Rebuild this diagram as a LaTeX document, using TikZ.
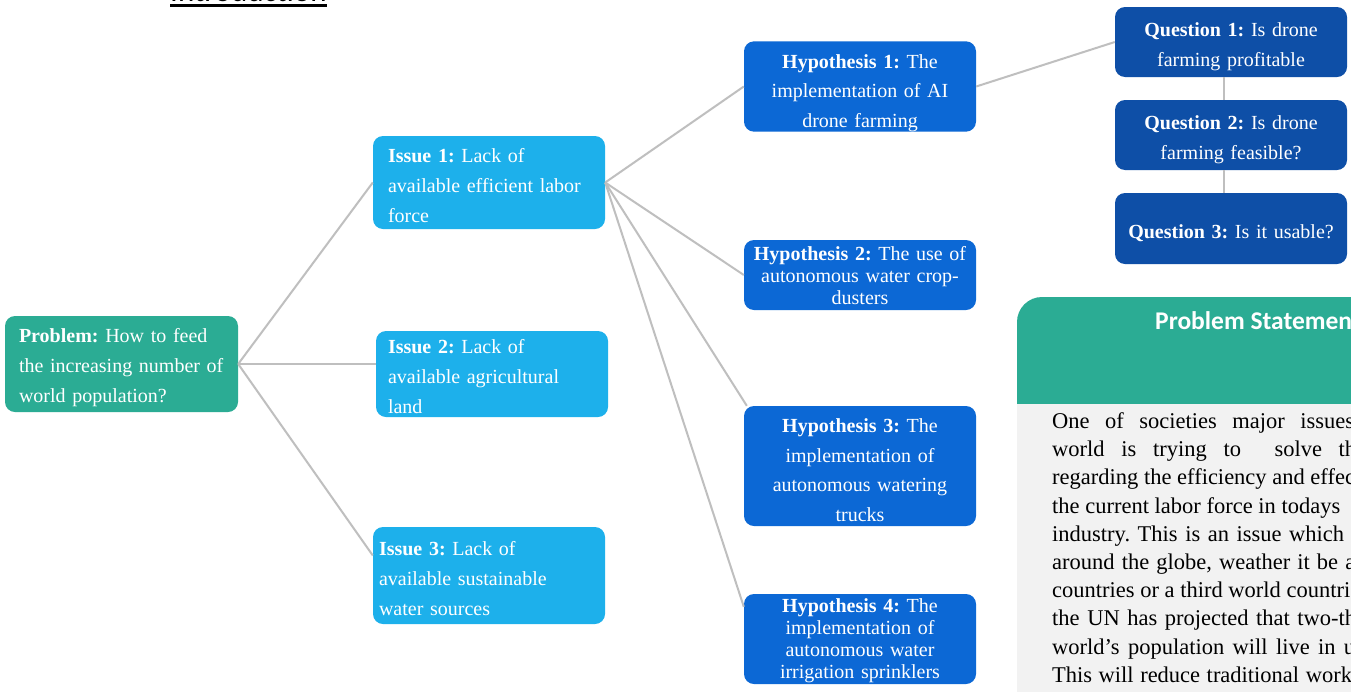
\documentclass[tikz,border=0pt]{standalone}
\usepackage{fontspec}
\setmainfont{Liberation Serif}
\newfontfamily\titlefont{Carlito}
\frenchspacing
\definecolor{tealbox}{HTML}{2BAC94}
\definecolor{issueblue}{HTML}{1DB0EB}
\definecolor{hypblue}{HTML}{0C68D5}
\definecolor{qblue}{HTML}{0E4FA7}
\definecolor{panelgray}{HTML}{F2F2F2}
\definecolor{conngray}{HTML}{BFBFBF}
\begin{document}
\begin{tikzpicture}[x=1pt,y=-1pt,
  box/.style={rounded corners=10pt, text=white, inner ysep=0pt, minimum width=232pt},
  lbox/.style={box, align=left, font=\frenchspacing\fontsize{20}{30}\selectfont},
  probbox/.style={lbox, fill=tealbox},
  issuebox/.style={lbox, fill=issueblue},
  hypbox/.style={box, fill=hypblue, align=center, inner xsep=4pt, text width=224pt},
  qbox/.style={box, fill=qblue, align=center, inner xsep=4pt, text width=224pt, font=\frenchspacing\fontsize{20}{30}\selectfont},
  conn/.style={draw=conngray, line width=2pt},
  bodyline/.style={anchor=base west, inner sep=0pt, font=\frenchspacing\fontsize{22.5}{28}\selectfont},
]
\useasboundingbox (0,0) rectangle (1351,691);
\clip (0,0) rectangle (1351,691);
\fill[white] (0,0) rectangle (1351,691);

% cut-off heading
\node[anchor=base west, inner sep=0pt, font=\titlefont\fontsize{31}{31}\selectfont] (intro) at (170,1.5) {Introduction};
\draw[line width=2.5pt] ([yshift=-3.8pt]intro.base west) -- ([yshift=-3.8pt]intro.base east);

% problem statement panel
\fill[tealbox, rounded corners=25pt] (1017,297) rectangle (1420,404);
\fill[tealbox] (1017,345) rectangle (1420,404);
\fill[panelgray] (1017,404) rectangle (1420,700);
\node[anchor=base west, inner sep=0pt, text=white, font=\titlefont\bfseries\fontsize{25.5}{27}\selectfont] (pstitle) at (1155,329.8) {Problem Statemen};

\node[bodyline] (pl1) at (1052,428.5) {\makebox[302pt][s]{One of societies major issues}};
\node[bodyline] (pl2) at (1052,456.5) {\makebox[304pt][s]{world is trying to\ \ solve th}};
\node[bodyline] (pl3) at (1052,484.5) {regarding the efficiency and effec};
\node[bodyline] (pl4) at (1052,513) {the current labor force in todays};
\node[bodyline] (pl5) at (1052,541.5) {\makebox[292pt][s]{industry. This is an issue which}};
\node[bodyline] (pl6) at (1052,569.5) {\makebox[303pt][s]{around the globe, weather it be a}};
\node[bodyline] (pl7) at (1052,597.5) {countries or a third world countri};
\node[bodyline] (pl8) at (1052,625.5) {\makebox[304pt][s]{the UN has projected that two-th}};
\node[bodyline] (pl9) at (1052,654) {\makebox[303pt][s]{world’s population will live in u}};
\node[bodyline] (pl10) at (1052,682) {\makebox[306pt][s]{This will reduce traditional workt}};

% problem
\node[probbox, minimum width=233pt, minimum height=96pt, inner xsep=14pt, text width=205pt] (prob) at (121.5,364)
  {\rule{0pt}{21pt}\textbf{Problem:} How to feed\\the increasing number of\\world population?};

% issues
\node[issuebox, minimum height=93pt, inner xsep=15pt, text width=202pt] (i1) at (489,182.5)
  {\rule{0pt}{20pt}\textbf{Issue 1:} Lack of\\available efficient labor\\force};
\node[issuebox, minimum height=86pt, inner xsep=12pt, text width=208pt] (i2) at (492,374)
  {\rule{0pt}{20pt}\textbf{Issue 2:} Lack of\\available agricultural\\land};
\node[issuebox, minimum height=97pt, inner xsep=6pt, text width=220pt] (i3) at (489,575.5)
  {\rule{0pt}{20pt}\textbf{Issue 3:} Lack of\\available sustainable\\water sources};

% hypotheses
\node[hypbox, minimum height=87pt, font=\frenchspacing\fontsize{20}{29.5}\selectfont] (h1) at (860,86.5)
  {\rule{0pt}{27pt}\textbf{Hypothesis 1:} The\\implementation of AI\\drone farming};
\node[hypbox, minimum height=70pt, font=\frenchspacing\fontsize{20}{22}\selectfont] (h2) at (860,275)
  {\rule{0pt}{16pt}\textbf{Hypothesis 2:} The use of\\autonomous water crop-\\dusters};
\node[hypbox, minimum height=120pt, font=\frenchspacing\fontsize{20}{29.7}\selectfont] (h3) at (860,466)
  {\rule{0pt}{22pt}\textbf{Hypothesis 3:} The\\implementation of\\autonomous watering\\trucks};
\node[hypbox, minimum height=90pt, font=\frenchspacing\fontsize{20}{22}\selectfont] (h4) at (860,639)
  {\rule{0pt}{18pt}\textbf{Hypothesis 4:} The\\implementation of\\autonomous water\\irrigation sprinklers};

% questions
\node[qbox, minimum height=70pt] (q1) at (1231,42)
  {\rule{0pt}{24pt}\textbf{Question 1:} Is drone\\farming profitable};
\node[qbox, minimum height=70pt] (q2) at (1231,135)
  {\rule{0pt}{23pt}\textbf{Question 2:} Is drone\\farming feasible?};
\node[qbox, minimum height=71pt] (q3) at (1231,228.5)
  {\rule{0pt}{23pt}\textbf{Question 3:} Is it usable?};

% connectors
\draw[conn] (prob.east) -- (i1.west);
\draw[conn] (prob.east) -- (prob.east -| i2.west);
\draw[conn] (prob.east) -- ([yshift=20pt]i3.west);
\draw[conn] (i1.east) -- (h1.west);
\draw[conn] (i1.east) -- (h2.west);
\draw[conn] (i1.east) -- ([xshift=3pt]h3.north west);
\draw[conn] (i1.east) -- ([yshift=-13pt]h4.north west);
\draw[conn] (h1.east) -- (q1.west);
\draw[conn] ([xshift=-7pt]q1.south) -- ([xshift=-7pt]q2.north);
\draw[conn] ([xshift=-7pt]q2.south) -- ([xshift=-7pt]q3.north);
\end{tikzpicture}
\end{document}
